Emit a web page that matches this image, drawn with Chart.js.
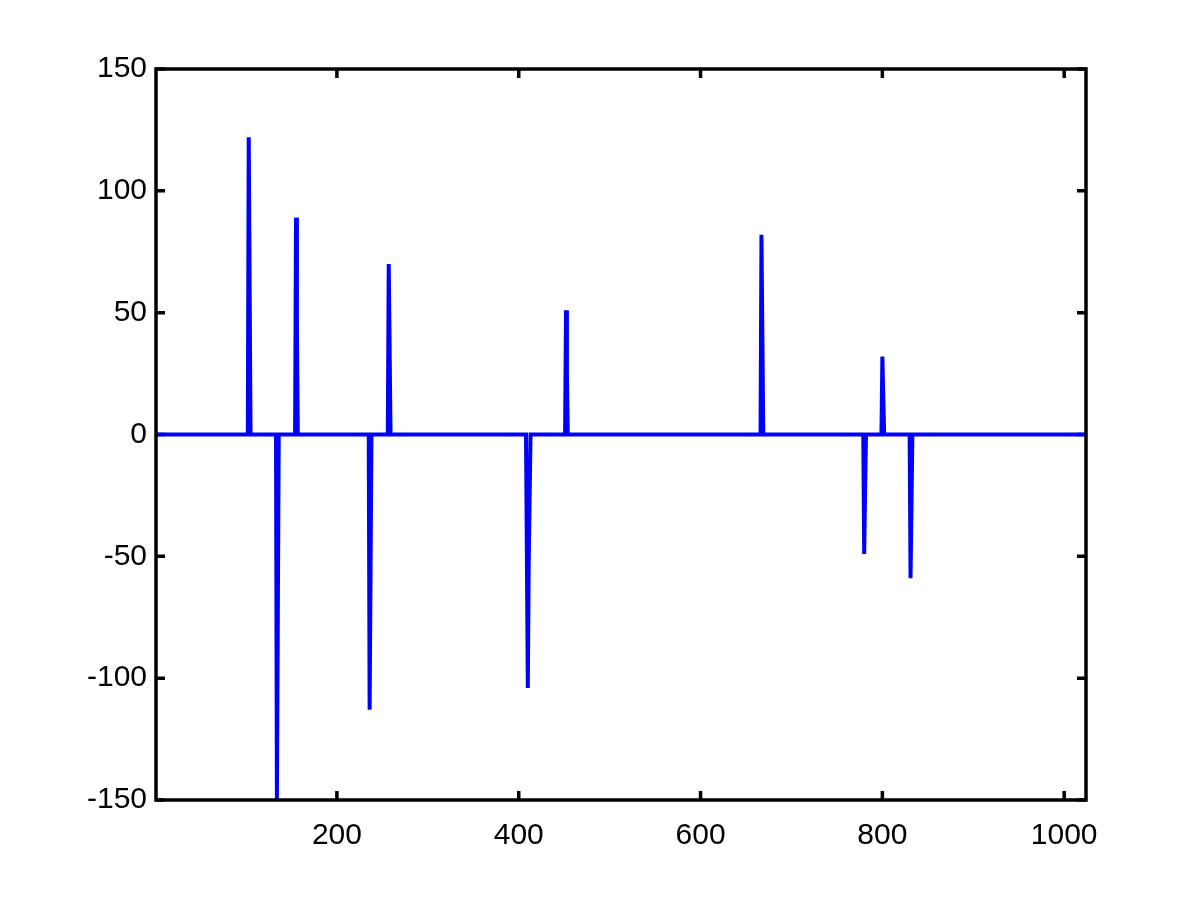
<!DOCTYPE html>
<html>
<head>
<meta charset="utf-8">
<script src="https://cdn.jsdelivr.net/npm/chart.js@4/dist/chart.umd.min.js"></script>
<style>
  html, body { margin: 0; padding: 0; background: #fff; }
  canvas { display: block; }
</style>
</head>
<body>
<canvas id="myChart" width="1200" height="900"></canvas>
<script>
// signal length and spikes
const nSamples = 1024;
const spikeX = [103, 134, 155, 236, 257, 410, 452, 667, 780, 800, 831];
const spikeA = [122, -150, 89, -113, 70, -104, 51, 82, -49, 32, -59];
const spikeB = [61, -75, 44, -57, 35, -52, 25, 41, -24, 16, -30];
const spikeC = [0, 0, 0, 0, 0, -26, 0, 0, 0, 0, 0];

const xTicks = [200, 400, 600, 800, 1000];
const yTicks = [-150, -100, -50, 0, 50, 100, 150];

// build the signal: zero everywhere except at the spikes
let signal = [];
for (let i = 1; i <= nSamples; i++) {
    signal.push({ x: i, y: 0 });
}
for (let i = 0; i < spikeX.length; i++) {
    signal[spikeX[i] - 1].y = spikeA[i];
    signal[spikeX[i]].y = spikeB[i];
    signal[spikeX[i] + 1].y = spikeC[i];
}

const fontSpec = { family: "'Liberation Sans', Arial, Helvetica, sans-serif", size: 30 };

// matlab style box: ticks under the data, frame over it
const boxPlugin = {
    id: 'box',
    beforeDatasetsDraw(chart) {
        const ctx = chart.ctx;
        const a = chart.chartArea;
        const xs = chart.scales.x;
        const ys = chart.scales.y;
        const len = 9;
        ctx.save();
        ctx.strokeStyle = '#000';
        ctx.lineWidth = 3.5;
        ctx.beginPath();
        xTicks.forEach(function (v) {
            let p = xs.getPixelForValue(v);
            ctx.moveTo(p, a.bottom); ctx.lineTo(p, a.bottom - len);
            ctx.moveTo(p, a.top); ctx.lineTo(p, a.top + len);
        });
        yTicks.forEach(function (v) {
            let p = ys.getPixelForValue(v);
            ctx.moveTo(a.left, p); ctx.lineTo(a.left + len, p);
            ctx.moveTo(a.right, p); ctx.lineTo(a.right - len, p);
        });
        ctx.stroke();
        ctx.restore();
    },
    afterDatasetsDraw(chart) {
        const ctx = chart.ctx;
        const a = chart.chartArea;
        ctx.save();
        ctx.strokeStyle = '#000';
        ctx.lineWidth = 3.5;
        ctx.strokeRect(a.left, a.top, a.right - a.left, a.bottom - a.top);
        ctx.restore();
    }
};

const ctx = document.getElementById('myChart').getContext('2d');
const myChart = new Chart(ctx, {
    type: 'line',
    data: {
        datasets: [{
            data: signal,
            borderColor: '#0000ff',
            borderWidth: 4,
            pointRadius: 0,
            tension: 0,
            fill: false
        }]
    },
    options: {
        responsive: false,
        animation: false,
        events: [],
        layout: { padding: { left: 0, right: 114, top: 69, bottom: 0 } },
        plugins: { legend: { display: false }, tooltip: { enabled: false } },
        scales: {
            x: {
                type: 'linear',
                min: 1,
                max: nSamples,
                afterBuildTicks: function (scale) {
                    scale.ticks = xTicks.map(function (v) { return { value: v }; });
                },
                afterFit: function (scale) { scale.height = 100; },
                grid: { display: false, drawTicks: false },
                border: { display: false },
                ticks: {
                    color: '#000', font: fontSpec, padding: 18, maxRotation: 0, autoSkip: false,
                    callback: function (v) { return String(v); }
                }
            },
            y: {
                min: -150,
                max: 150,
                afterBuildTicks: function (scale) {
                    scale.ticks = yTicks.map(function (v) { return { value: v }; });
                },
                afterFit: function (scale) { scale.width = 156; },
                grid: { display: false, drawTicks: false },
                border: { display: false },
                ticks: {
                    color: '#000', font: fontSpec, padding: 9, autoSkip: false,
                    callback: function (v) { return String(v); }
                }
            }
        }
    },
    plugins: [boxPlugin]
});
</script>
</body>
</html>
